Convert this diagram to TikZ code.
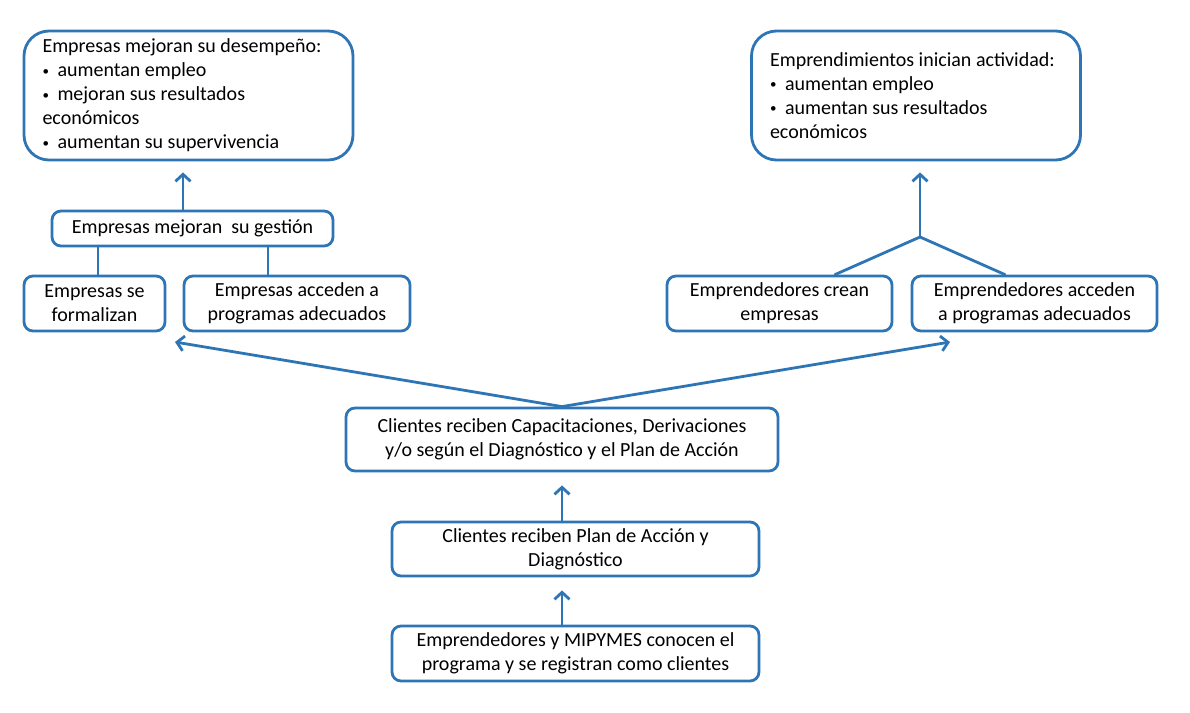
\documentclass[tikz,border=0pt]{standalone}
\usepackage{fontspec}
\setmainfont{Carlito}
\usetikzlibrary{calc,positioning,arrows.meta}
\definecolor{azul}{HTML}{2E75B6}
\newcommand{\vineta}{\makebox[15pt][l]{\raisebox{1.5pt}{\fontsize{13}{13}\selectfont\textbullet}}}

\begin{document}
\begin{tikzpicture}[x=1pt,y=-1pt,line cap=round,line join=round,
  caja/.style={draw=azul,line width=2.8pt,rounded corners=9pt,align=center,inner sep=0pt,
    minimum height=55pt,font=\fontsize{20}{24}\selectfont},
  grande/.style={caja,rounded corners=25pt,align=flush left,text width=292pt,minimum width=329pt,minimum height=129pt},
  linea/.style={azul,line width=2.8pt},
  flecha/.style={linea,-{Straight Barb[length=7pt,width=15pt]}}]
\useasboundingbox (0,0) rectangle (1190,712);
% resultados
\node[grande] (desemp) at (188.5,95.5) {Empresas mejoran su desempeño:\\ \vineta aumentan empleo\\ \vineta mejoran sus resultados\\ económicos\\ \vineta aumentan su supervivencia};
\node[grande] (activ) at (916,95.5) {Emprendimientos inician actividad:\\ \vineta aumentan empleo\\ \vineta aumentan sus resultados\\ económicos};
% efectos intermedios
\node[caja,minimum width=281pt,minimum height=35pt] (gestion) at (192.5,228.5) {Empresas mejoran\ \ su gestión};
\node[caja,minimum width=141pt] (formal) at (94.5,303.5) {Empresas se\\ formalizan};
\node[caja,minimum width=226pt] (accE) at (297,303.5) {Empresas acceden a\\ programas adecuados};
\node[caja,minimum width=225pt] (crean) at (779.5,303.5) {Emprendedores crean\\ empresas};
\node[caja,minimum width=245pt] (accP) at (1034.5,303.5) {Emprendedores acceden\\ a programas adecuados};
% servicios
\node[caja,minimum width=432pt,minimum height=63pt] (capac) at (562,439.5) {Clientes reciben Capacitaciones, Derivaciones\\ y/o según el Diagnóstico y el Plan de Acción};
\node[caja,minimum width=367pt,minimum height=54pt] (plan) at (575.5,549) {Clientes reciben Plan de Acción y\\ Diagnóstico};
\node[caja,minimum width=367pt] (registro) at (575.5,653.5) {Emprendedores y MIPYMES conocen el\\ programa y se registran como clientes};

% conectores
\draw[flecha] (registro.north -| capac.south) -- ($(plan.south -| capac.south)+(0,13)$);
\draw[flecha] (plan.north -| capac.south) -- ($(capac.south)+(0,13)$);
\coordinate (izq) at (175,342);
\coordinate (der) at (950,342);
\draw[flecha] (capac.north) -- (izq);
\draw[flecha] (capac.north) -- (der);
\coordinate (f) at ([xshift=3.5pt]formal.north);
\coordinate (a) at ([xshift=-29pt]accE.north);
\draw[linea] (f) -- (f |- gestion.south);
\draw[linea] (a) -- (a |- gestion.south);
\coordinate (g) at ([xshift=-9.5pt]gestion.north);
\draw[flecha] (g) -- ($(g |- desemp.south)+(0,11)$);
\coordinate (union) at (920,237);
\draw[linea] ([xshift=55.5pt]crean.north) -- (union) -- ([xshift=-29.5pt]accP.north);
\draw[flecha] (union) -- ($(union |- activ.south)+(0,11)$);
\end{tikzpicture}
\end{document}
